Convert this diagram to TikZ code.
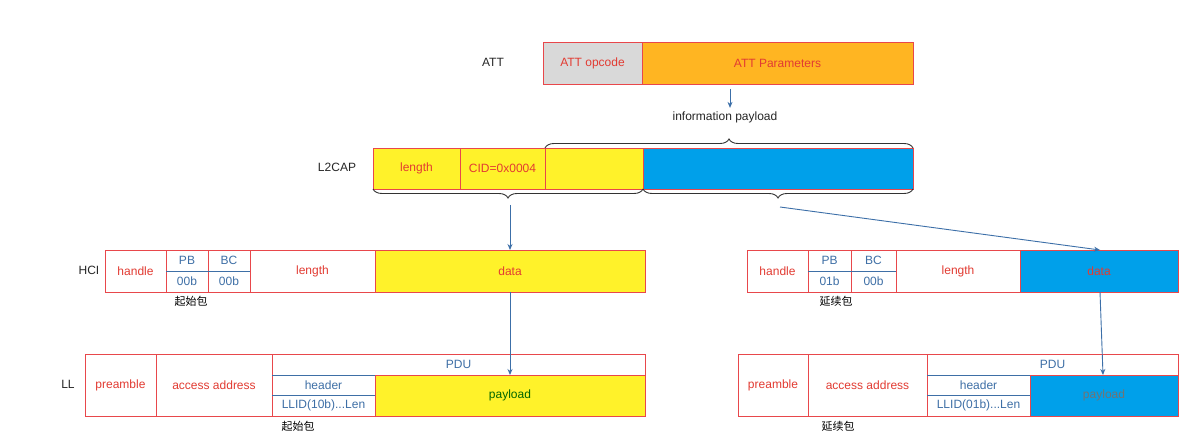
\documentclass[tikz,border=0pt]{standalone}
\usepackage{fontspec}
\setmainfont{Liberation Sans}
\newfontfamily\cjk{Noto Sans CJK SC}
\usetikzlibrary{decorations.pathreplacing,arrows.meta}
\definecolor{rb}{HTML}{E8474B}
\definecolor{rt}{HTML}{E23B32}
\definecolor{bt}{HTML}{3E6FA6}
\definecolor{yl}{HTML}{FFF22A}
\definecolor{og}{HTML}{FFB522}
\definecolor{gy}{HTML}{D9D9D9}
\definecolor{bl}{HTML}{00A0EA}
\definecolor{ar}{HTML}{3C6FA8}
\newcommand\fld[8]{\node[fld,fill=#6,text=#7,minimum width={(#4-#2)*1pt},minimum height={(#5-#3)*1pt}] (#1) at ({(#2+#4)/2},{(#3+#5)/2}) {#8};}
\begin{document}
\begin{tikzpicture}[x=1pt,y=-1pt,font=\fontsize{12}{14}\selectfont,
 fld/.style={draw=rb,line width=0.9pt,inner sep=0,outer sep=0,rectangle},
 lbl/.style={text=black!85},
 arr/.style={draw=ar,line width=0.9pt,-{Stealth[length=6pt,width=5pt]}},
 brc/.style={draw=black!80,line width=0.9pt,decorate,decoration={brace,amplitude=9pt}}]
\useasboundingbox[fill=white] (0,0) rectangle (1199,438);
% ATT
\node[lbl] (attl) at (493,62) {ATT};
\fld{op}{543}{42}{642}{84}{gy}{rt}{ATT opcode}
\fld{par}{642}{42}{913}{84}{og}{rt}{ATT Parameters}
\node[lbl] (ip) at (725,117) {information payload};
\draw[arr] (730,89) -- (ip.north -| 730,0);
% L2CAP
\node[lbl] (l2l) at (337,167) {L2CAP};
\fld{l2len}{373}{148}{460}{189}{yl}{rt}{length}
\fld{l2cid}{460}{148}{545}{189}{yl}{rt}{CID=0x0004}
\fld{l2y}{545}{148}{643}{189}{yl}{rt}{}
\fld{l2b}{643}{148}{913}{189}{bl}{rt}{}
\draw[brc] (l2y.north west) -- (l2b.north east);
\draw[brc] (l2b.south west) -- (l2len.south west);
\draw[brc] (l2b.south east) -- (l2b.south west);
\coordinate (b1) at (510,205);
\coordinate (b2) at (780,207);
% HCI left
\node[lbl] (hcil) at (89,270) {HCI};
\fld{h1}{105}{250}{166}{292}{white}{rt}{handle}
\fld{h2}{166}{250}{208}{271}{white}{bt}{PB}
\fld{h3}{166}{271}{208}{292}{white}{bt}{00b}
\fld{h4}{208}{250}{250}{271}{white}{bt}{BC}
\fld{h5}{208}{271}{250}{292}{white}{bt}{00b}
\fld{h6}{250}{250}{375}{292}{white}{rt}{length}
\fld{hd}{375}{250}{645}{292}{yl}{rt}{data}
\draw[bt,line width=0.9pt] (h2.south west) -- (h5.north east);
\node (c1) at (191,301) {\cjk\fontsize{11}{12}\selectfont 起始包};
% HCI right
\fld{r1}{747}{250}{808}{292}{white}{rt}{handle}
\fld{r2}{808}{250}{851}{271}{white}{bt}{PB}
\fld{r3}{808}{271}{851}{292}{white}{bt}{01b}
\fld{r4}{851}{250}{896}{271}{white}{bt}{BC}
\fld{r5}{851}{271}{896}{292}{white}{bt}{00b}
\fld{r6}{896}{250}{1020}{292}{white}{rt}{length}
\fld{rd}{1020}{250}{1178}{292}{bl}{rt}{data}
\draw[bt,line width=0.9pt] (r2.south west) -- (r5.north east);
\node (c2) at (836,301) {\cjk\fontsize{11}{12}\selectfont 延续包};
\draw[arr] (b1) -- (hd.north -| b1);
\draw[arr] (b2) -- (1100,250);
% LL left
\node[lbl] (lll) at (68,384) {LL};
\fld{l1}{85}{354}{156}{416}{white}{rt}{preamble}
\fld{l2}{156}{354}{272}{416}{white}{rt}{access address}
\fld{l3}{272}{354}{645}{375}{white}{bt}{PDU}
\fld{l4}{272}{375}{375}{395}{white}{bt}{header}
\fld{l5}{272}{395}{375}{416}{white}{bt}{LLID(10b)...Len}
\fld{lp}{375}{375}{645}{416}{yl}{black!60!green}{payload}
\draw[bt,line width=0.9pt] (l4.north west) -- (l4.north east) (l4.south west) -- (l4.south east);
\node (c3) at (298,426) {\cjk\fontsize{11}{12}\selectfont 起始包};
\draw[arr] (hd.south -| b1) -- (lp.north -| b1);
% LL right
\fld{m1}{738}{354}{808}{416}{white}{rt}{preamble}
\fld{m2}{808}{354}{927}{416}{white}{rt}{access address}
\fld{m3}{927}{354}{1178}{375}{white}{bt}{PDU}
\fld{m4}{927}{375}{1030}{395}{white}{bt}{header}
\fld{m5}{927}{395}{1030}{416}{white}{bt}{LLID(01b)...Len}
\fld{mp}{1030}{375}{1178}{416}{bl}{black!55}{payload}
\draw[bt,line width=0.9pt] (m4.north west) -- (m4.north east) (m4.south west) -- (m4.south east);
\node (c4) at (838,426) {\cjk\fontsize{11}{12}\selectfont 延续包};
\draw[arr] (1100,292) -- (1103,375);
\end{tikzpicture}
\end{document}
